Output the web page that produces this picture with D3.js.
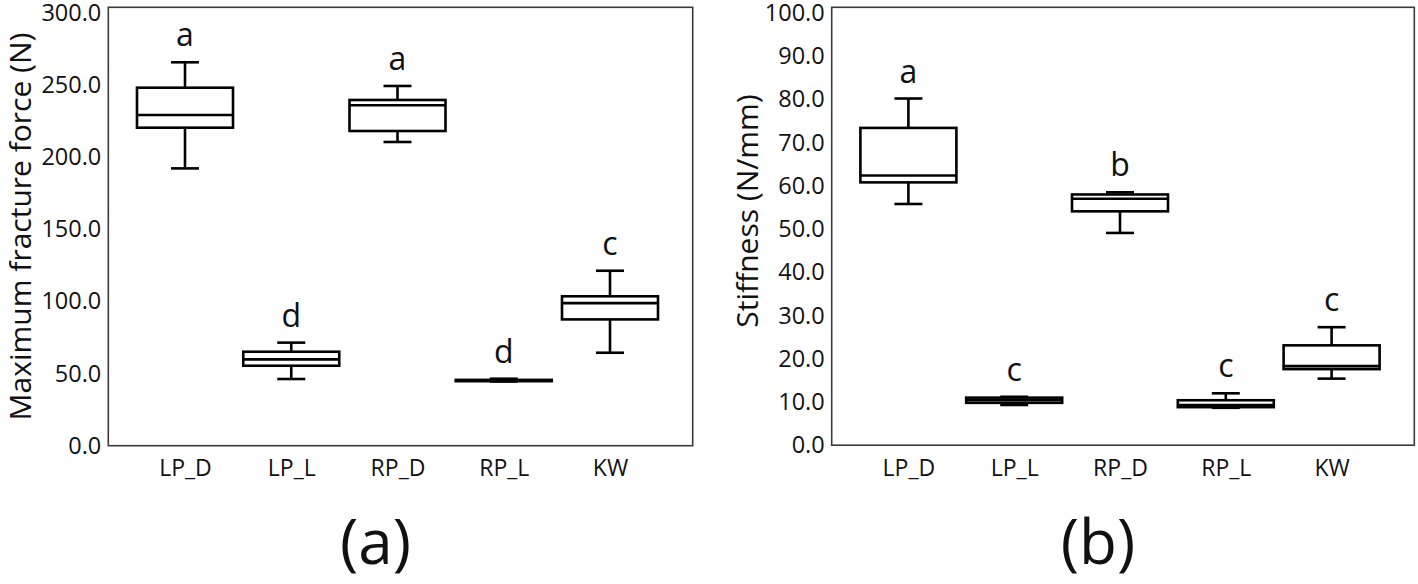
<!DOCTYPE html>
<html>
<head>
<meta charset="utf-8">
<script src="https://cdn.jsdelivr.net/npm/d3@7/dist/d3.min.js"></script>
<style>
  html, body { margin: 0; padding: 0; background: #fff; }
  svg { display: block; }
  text { font-family: "Open Sans", "Noto Sans", sans-serif; fill: #111; }
</style>
</head>
<body>
<svg id="chart" width="1418" height="584"></svg>
<script>
// ---------- data ----------
const categories = ["LP_D", "LP_L", "RP_D", "RP_L", "KW"];

// (a) Maximum fracture force (N)
const forceMin = [192.1, 46.2, 210.4, 44.5, 64.4];
const forceQ1  = [220.3, 55.4, 218.0, 44.7, 87.5];
const forceMed = [229.1, 59.8, 235.8, 45.2, 98.8];
const forceQ3  = [248.0, 65.1, 239.5, 45.6, 103.5];
const forceMax = [265.6, 71.4, 249.2, 46.4, 121.2];
const forceLetters = ["a", "d", "a", "d", "c"];
const forceTicks = [0, 50, 100, 150, 200, 250, 300];

// (b) Stiffness (N/mm)
const stiffMin = [55.8, 9.3, 49.1, 8.65, 15.4];
const stiffQ1  = [60.8, 9.8, 54.1, 8.8, 17.6];
const stiffMed = [62.4, 10.4, 57.0, 9.3, 18.3];
const stiffQ3  = [73.4, 11.0, 58.0, 10.4, 23.1];
const stiffMax = [80.2, 11.2, 58.5, 12.0, 27.3];
const stiffLetters = ["a", "c", "b", "c", "c"];
const stiffTicks = [0, 10, 20, 30, 40, 50, 60, 70, 80, 90, 100];

// ---------- drawing ----------
const svg = d3.select("#chart");

function panel(cfg) {
  const { left, right, top, bottom, yMax, ticks, mins, q1s, meds, q3s, maxs, letters,
          title, titleX, titleY, panelLabel } = cfg;

  const x = d3.scalePoint().domain(categories).range([left + 76.7, right - 82.7]);
  const y = d3.scaleLinear().domain([0, yMax]).range([bottom, top]);
  const boxW = 96, capW = 28;

  const g = svg.append("g");

  // frame
  g.append("rect")
    .attr("x", left).attr("y", top)
    .attr("width", right - left).attr("height", bottom - top)
    .attr("fill", "none").attr("stroke", "#3a3a3a").attr("stroke-width", 1.6);

  // y axis
  const yAxis = d3.axisLeft(y).tickValues(ticks).tickFormat(d3.format(".1f")).tickSize(0).tickPadding(7);
  const ya = g.append("g").attr("transform", `translate(${left},0)`).call(yAxis);
  ya.select(".domain").remove();
  ya.selectAll("text").style("font-size", "23.5px").style("font-family", '"Open Sans", sans-serif').attr("fill", "#111");

  // x axis
  const xAxis = d3.axisBottom(x).tickSize(0).tickPadding(14);
  const xa = g.append("g").attr("transform", `translate(0,${bottom})`).call(xAxis);
  xa.select(".domain").remove();
  xa.selectAll("text").style("font-size", "23px").style("font-family", '"Open Sans", sans-serif').attr("fill", "#111");

  const rows = categories.map((c, i) => ({ c, min: mins[i], q1: q1s[i], med: meds[i], q3: q3s[i], max: maxs[i], letter: letters[i] }));

  const box = g.selectAll(".box").data(rows).enter().append("g").attr("class", "box");
  const sw = 2.6;
  // whiskers
  box.append("line")
    .attr("x1", d => x(d.c)).attr("x2", d => x(d.c))
    .attr("y1", d => y(d.max)).attr("y2", d => y(d.q3))
    .attr("stroke", "#000").attr("stroke-width", sw);
  box.append("line")
    .attr("x1", d => x(d.c)).attr("x2", d => x(d.c))
    .attr("y1", d => y(d.q1)).attr("y2", d => y(d.min))
    .attr("stroke", "#000").attr("stroke-width", sw);
  // caps
  box.append("line")
    .attr("x1", d => x(d.c) - capW / 2).attr("x2", d => x(d.c) + capW / 2)
    .attr("y1", d => y(d.max)).attr("y2", d => y(d.max))
    .attr("stroke", "#000").attr("stroke-width", sw);
  box.append("line")
    .attr("x1", d => x(d.c) - capW / 2).attr("x2", d => x(d.c) + capW / 2)
    .attr("y1", d => y(d.min)).attr("y2", d => y(d.min))
    .attr("stroke", "#000").attr("stroke-width", sw);
  // box
  box.append("rect")
    .attr("x", d => x(d.c) - boxW / 2).attr("width", boxW)
    .attr("y", d => y(d.q3)).attr("height", d => Math.max(0.5, y(d.q1) - y(d.q3)))
    .attr("fill", "#fff").attr("stroke", "#000").attr("stroke-width", sw);
  // median
  box.append("line")
    .attr("x1", d => x(d.c) - boxW / 2).attr("x2", d => x(d.c) + boxW / 2)
    .attr("y1", d => y(d.med)).attr("y2", d => y(d.med))
    .attr("stroke", "#000").attr("stroke-width", sw);
  // significance letters
  box.append("text")
    .attr("x", d => x(d.c)).attr("y", d => y(d.max) - 16)
    .attr("text-anchor", "middle")
    .style("font-size", "32px")
    .text(d => d.letter);

  // y title
  g.append("text")
    .attr("transform", `translate(${titleX},${titleY}) rotate(-90)`)
    .attr("text-anchor", "middle")
    .style("font-size", "30px")
    .text(title);

  // panel label
  g.append("text")
    .attr("x", (left + right) / 2 - 25).attr("y", 564)
    .attr("text-anchor", "middle")
    .style("font-size", "62px")
    .text(panelLabel);
}

panel({
  left: 108.3, right: 692.7, top: 7.3, bottom: 445.7, yMax: 303.7, ticks: forceTicks,
  mins: forceMin, q1s: forceQ1, meds: forceMed, q3s: forceQ3, maxs: forceMax, letters: forceLetters,
  title: "Maximum fracture force (N)", titleX: 31, titleY: 226.5, panelLabel: "(a)"
});

panel({
  left: 831.7, right: 1414.3, top: 7.3, bottom: 445.2, yMax: 101.3, ticks: stiffTicks,
  mins: stiffMin, q1s: stiffQ1, meds: stiffMed, q3s: stiffQ3, maxs: stiffMax, letters: stiffLetters,
  title: "Stiffness (N/mm)", titleX: 758, titleY: 211, panelLabel: "(b)"
});
</script>
</body>
</html>
